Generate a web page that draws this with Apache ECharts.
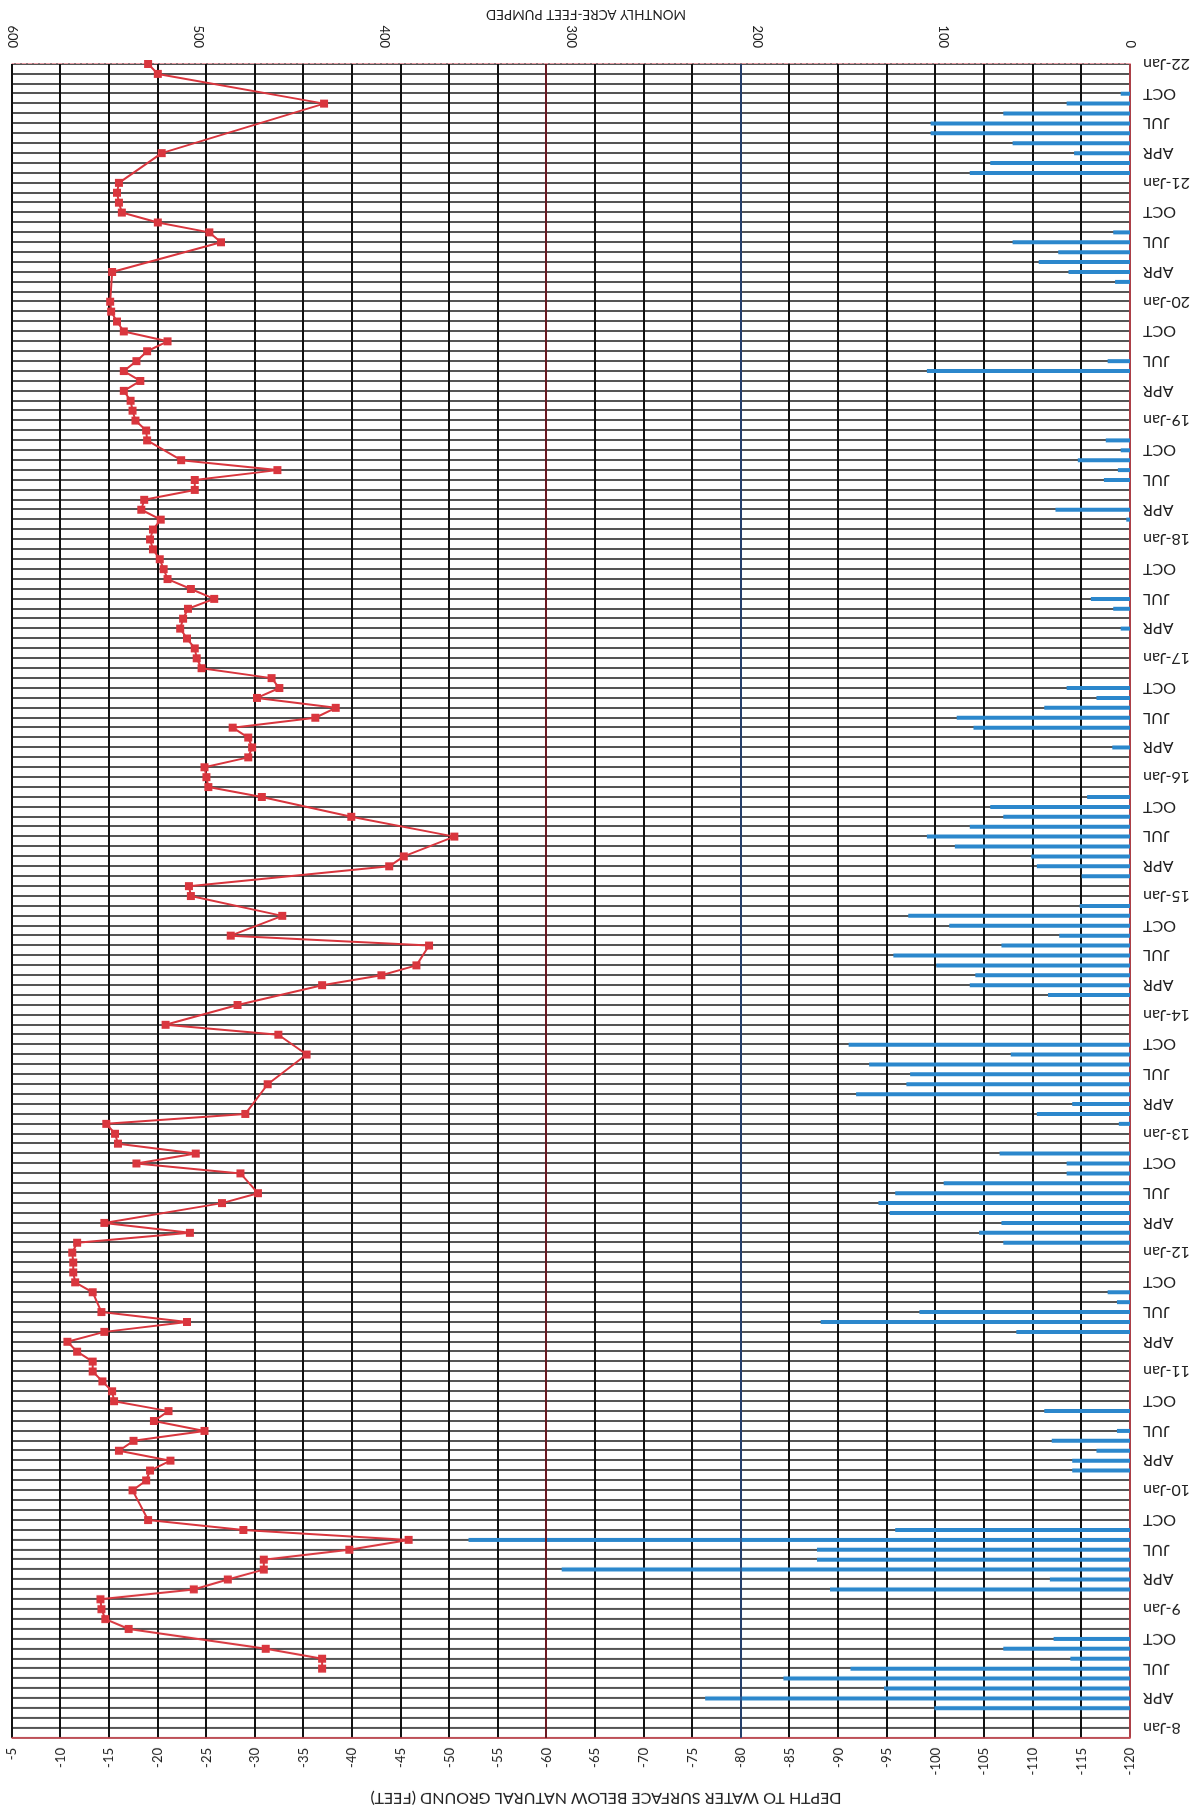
<!DOCTYPE html>
<html>
<head>
<meta charset="utf-8">
<title>Depth to water / monthly pumping</title>
<script src="https://cdn.jsdelivr.net/npm/echarts@6.0.0/dist/echarts.min.js"></script>
<style>
  html, body { margin: 0; padding: 0; background: #fff; }
  /* the scanned sheet is upside down: draw the chart normally and turn the whole div */
  #chart { width: 1203px; height: 1811px; transform: rotate(180deg); }
</style>
</head>
<body>
<div id="chart"></div>
<script>
// Libellés des années et des trimestres
var yearLabels = ['8-Jan', '9-Jan', '10-Jan', '11-Jan', '12-Jan', '13-Jan', '14-Jan', '15-Jan',
                  '16-Jan', '17-Jan', '18-Jan', '19-Jan', '20-Jan', '21-Jan', '22-Jan'];
var quarterMonths = [3, 6, 9];
var quarterLabels = ['APR', 'JUL', 'OCT'];

// Depth to water (feet), one value per month, Jan 2008 -> Jan 2022 (null = no reading)
var depth = [
    null, null, null, null, null, null, -36.9, -36.9, -31.1, null, -17.0, -14.6,
    -14.2, -14.1, -23.7, -27.2, -30.9, -30.9, -39.7, -45.8, -28.8, -19.0, null, null,
    -17.4, -18.8, -19.2, -21.3, -16.0, -17.5, -24.8, -19.6, -21.1, -15.5, -15.3, -14.3,
    -13.3, -13.3, -11.7, -10.7, -14.5, -23.0, -14.2, null, -13.3, -11.5, -11.3, -11.3,
    -11.2, -11.7, -23.3, -14.5, null, -26.6, -30.3, null, -28.5, -17.8, -23.9, -15.9,
    -15.6, -14.7, -29.0, null, null, -31.3, null, null, -35.3, null, -32.4, -20.8,
    null, -28.2, null, -36.9, -43.0, -46.6, null, -47.9, -27.5, null, -32.8, null,
    -23.4, -23.2, null, -43.8, -45.3, null, -50.5, null, -39.9, null, -30.7, -25.2,
    -25.0, -24.8, -29.3, -29.7, -29.3, -27.7, -36.2, -38.3, -30.2, -32.5, -31.7, -24.5,
    -24.0, -23.8, -23.0, -22.3, -22.6, -23.1, -25.8, -23.4, -21.0, -20.6, -20.2, -19.5,
    -19.2, -19.5, -20.3, -18.3, -18.6, -23.8, -23.8, -32.3, -22.4, null, -18.9, -18.8,
    -17.7, -17.4, -17.2, -16.5, -18.2, -16.5, -17.8, -18.9, -21.0, -16.5, -15.8, -15.2,
    -15.1, null, null, -15.3, null, null, -26.5, -25.3, -20.0, -16.3, -16.0, -15.8,
    -16.0, null, null, -20.4, null, null, null, null, -37.1, null, null, -20.0,
    -19.0
];

// Monthly acre-feet pumped, same months
var pumped = [
    0, 0, 105, 228, 132, 186, 150, 32, 68, 41, 0, 0,
    0, 0, 161, 43, 305, 168, 168, 355, 126, 0, 0, 0,
    0, 0, 31, 31, 18, 42, 7, 0, 46, 0, 0, 0,
    0, 0, 0, 0, 61, 166, 113, 7, 12, 0, 0, 0,
    0, 68, 81, 69, 129, 135, 126, 100, 34, 34, 70, 0,
    0, 6, 50, 31, 147, 120, 118, 140, 64, 151, 0, 0,
    0, 0, 44, 86, 83, 104, 127, 69, 38, 97, 119, 27,
    0, 0, 26, 50, 53, 94, 109, 86, 68, 75, 23, 0,
    0, 0, 0, 9.5, 0, 84, 93, 46, 18, 34, 0, 0,
    0, 0, 0, 5, 0, 9, 21, 0, 0, 0, 0, 0,
    0, 0, 2, 40, 0, 0, 14, 6.5, 28, 5, 13, 0,
    0, 0, 0, 0, 0, 109, 12, 0, 0, 0, 0, 0,
    0, 0, 8, 33, 49, 38.5, 63, 9, 0, 0, 0, 0,
    0, 86, 75, 30, 63, 107, 107, 68, 34, 5, 0, 0,
    0
];

// Construire les libellés mensuels
function buildMonths() {
    var out = [];
    yearLabels.forEach(function(y, i) {
        var last = (i === yearLabels.length - 1);
        for (var mo = 0; mo < (last ? 1 : 12); mo++) {
            var q = quarterMonths.indexOf(mo);
            out.push(mo === 0 ? y : (q >= 0 ? quarterLabels[q] : ''));
        }
    });
    return out;
}

// one empty row sits on the edge of the plot before 8-Jan
var categories = [''].concat(buildMonths());
var depthData = [null].concat(depth);
var pumpedData = [null].concat(pumped);

var myChart = echarts.init(document.getElementById('chart'));

var option = {
    backgroundColor: '#ffffff',
    animation: false,
    grid: { left: 73, right: 12, top: 73, bottom: 64 },
    xAxis: [
        {
            type: 'value',
            position: 'top',
            min: -120,
            max: -5,
            interval: 5,
            axisLine: { show: true, lineStyle: { color: '#e0505a', width: 1.5 } },
            axisTick: { show: false },
            axisLabel: { rotate: 90, margin: 10, fontSize: 13, color: '#222', fontFamily: 'Lato' },
            splitLine: { show: true, lineStyle: { color: '#111', width: 2 } }
        },
        {
            type: 'value',
            position: 'bottom',
            min: 0,
            max: 600,
            interval: 100,
            axisLine: { show: true, lineStyle: { color: '#eaa0a8', width: 1, type: 'dashed' } },
            axisTick: { show: false },
            axisLabel: { rotate: 90, margin: 16, fontSize: 13, color: '#222', fontFamily: 'Lato' },
            splitLine: { show: false }
        }
    ],
    yAxis: {
        type: 'category',
        data: categories,
        inverse: true,
        boundaryGap: false,
        axisLine: { show: true, lineStyle: { color: '#e0505a', width: 1.5 } },
        axisTick: { show: false },
        axisLabel: { interval: 0, margin: 13, fontSize: 16, color: '#222', fontFamily: 'Lato' },
        splitLine: { show: true, interval: 0, lineStyle: { color: '#1c1c1c', width: 1.5 } }
    },
    graphic: [
        {
            type: 'text',
            x: 597,
            y: 13,
            style: {
                text: 'DEPTH TO WATER SURFACE BELOW NATURAL GROUND (FEET)',
                font: '16px Lato',
                fill: '#222',
                align: 'center',
                verticalAlign: 'middle'
            }
        },
        {
            type: 'text',
            x: 617,
            y: 1797,
            style: {
                text: 'MONTHLY ACRE-FEET PUMPED',
                font: '13.5px Lato',
                fill: '#222',
                align: 'center',
                verticalAlign: 'middle'
            }
        }
    ],
    series: [
        {
            name: 'Acre-feet pumped',
            type: 'bar',
            xAxisIndex: 1,
            yAxisIndex: 0,
            data: pumpedData,
            barWidth: 4,
            itemStyle: { color: '#2b87cc' },
            z: 2
        },
        {
            name: 'Depth to water',
            type: 'line',
            xAxisIndex: 0,
            yAxisIndex: 0,
            data: depthData,
            connectNulls: true,
            symbol: 'rect',
            symbolSize: 8,
            lineStyle: { color: '#d9363e', width: 2 },
            itemStyle: { color: '#d9363e' },
            z: 3,
            // deux lignes de grille plus foncées sur le scan
            markLine: {
                silent: true,
                symbol: 'none',
                label: { show: false },
                data: [
                    { xAxis: -60, lineStyle: { color: '#6b1a22', width: 2, type: 'solid' } },
                    { xAxis: -80, lineStyle: { color: '#2c4f8a', width: 1.5, type: 'solid' } }
                ]
            }
        }
    ]
};

myChart.setOption(option);
</script>
</body>
</html>
